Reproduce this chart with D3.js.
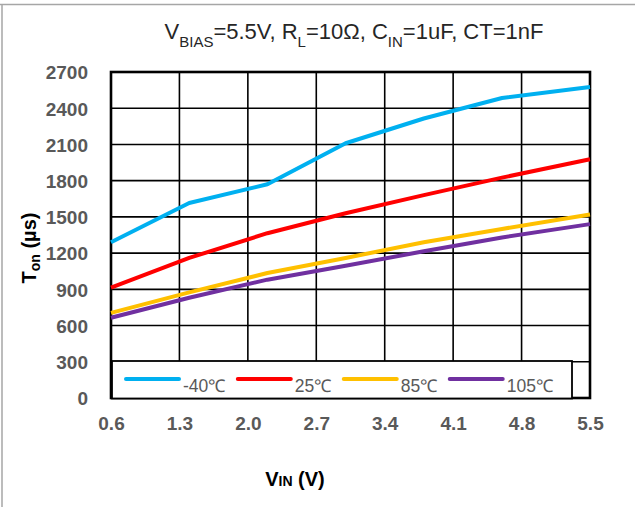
<!DOCTYPE html>
<html lang="en">
<head>
<meta charset="UTF-8">
<title>Ton vs VIN</title>
<script src="https://d3js.org/d3.v7.min.js"></script>
<style>
    body {
        margin: 0;
        background: #fff;
    }

    svg {
        display: block;
        font-family: 'Liberation Sans', Arial, sans-serif;
    }

    .axis path,
    .axis line {
        display: none;
    }

    .axis text {
        font-size: 19px;
        font-weight: bold;
        fill: #595959;
    }

    .grid line {
        stroke: #000;
        stroke-width: 1.6;
    }

    .legend text {
        font-size: 17.5px;
        fill: #595959;
    }
</style>
</head>
<body>
<script>
    // data
    var vin = [0.6, 1.4, 2.2, 3.0, 3.8, 4.6, 5.5];
    var tonM40 = [1290, 1615, 1770, 2110, 2315, 2485, 2575];
    var ton25 = [915, 1160, 1365, 1530, 1680, 1825, 1977];
    var ton85 = [705, 875, 1035, 1160, 1290, 1400, 1520];
    var ton105 = [665, 830, 980, 1095, 1215, 1330, 1440];
    var seriesNames = ["-40℃", "25℃", "85℃", "105℃"];
    var xTicks = [0.6, 1.3, 2.0, 2.7, 3.4, 4.1, 4.8, 5.5];
    var yTicks = [0, 300, 600, 900, 1200, 1500, 1800, 2100, 2400, 2700];

    var colors = ["#00b0f0", "#ff0000", "#ffc000", "#7030a0"];
    var series = [tonM40, ton25, ton85, ton105];

    var W = 635, H = 507;
    var margin = {top: 72, left: 111, right: 45, bottom: 109},
        width = W - margin.left - margin.right,
        height = H - margin.top - margin.bottom;

    var svg = d3.select("body").append("svg")
        .attr("width", W)
        .attr("height", H);

    // outer frame (top and left edge only are visible)
    svg.append("line").attr("x1", 0).attr("x2", W).attr("y1", 4.5).attr("y2", 4.5)
        .attr("stroke", "#a6a6a6").attr("stroke-width", 1.5);
    svg.append("line").attr("x1", 2).attr("x2", 2).attr("y1", 4).attr("y2", H)
        .attr("stroke", "#a6a6a6").attr("stroke-width", 1.5);

    var g = svg.append("g")
        .attr("transform", "translate(" + margin.left + "," + margin.top + ")");

    var x = d3.scaleLinear().domain([0.6, 5.5]).range([0, width]);
    var y = d3.scaleLinear().domain([0, 2700]).range([height, 0]);

    // grid
    var grid = g.append("g").attr("class", "grid");
    grid.selectAll("line.v").data(xTicks).enter().append("line")
        .attr("class", "v")
        .attr("x1", function(d) { return x(d); })
        .attr("x2", function(d) { return x(d); })
        .attr("y1", 0).attr("y2", height);
    grid.selectAll("line.h").data(yTicks).enter().append("line")
        .attr("class", "h")
        .attr("x1", 0).attr("x2", width)
        .attr("y1", function(d) { return y(d); })
        .attr("y2", function(d) { return y(d); });

    g.append("rect")
        .attr("width", width).attr("height", height)
        .attr("fill", "none").attr("stroke", "#000").attr("stroke-width", 2.6);

    // axes (labels only)
    g.append("g").attr("class", "axis")
        .call(d3.axisLeft(y).tickValues(yTicks).tickSize(0).tickPadding(23).tickFormat(d3.format("d")))
        .selectAll("text").attr("dy", "0.36em");

    g.append("g").attr("class", "axis")
        .attr("transform", "translate(0," + height + ")")
        .call(d3.axisBottom(x).tickValues(xTicks).tickSize(0).tickPadding(19).tickFormat(d3.format(".1f")));

    // lines
    var line = d3.line()
        .x(function(d, i) { return x(vin[i]); })
        .y(function(d) { return y(d); });

    g.selectAll("path.series").data(series).enter().append("path")
        .attr("class", "series")
        .attr("d", line)
        .attr("fill", "none")
        .attr("stroke", function(d, i) { return colors[i]; })
        .attr("stroke-width", 4)
        .attr("stroke-linejoin", "round");

    // legend
    var legend = svg.append("g").attr("class", "legend");
    legend.append("rect")
        .attr("x", 112).attr("y", 361).attr("width", 460).attr("height", 37.5)
        .attr("fill", "#fff").attr("stroke", "#000").attr("stroke-width", 1.8);

    var lx = 126;
    seriesNames.forEach(function(name, i) {
        legend.append("line")
            .attr("x1", lx).attr("x2", lx + 53)
            .attr("y1", 379).attr("y2", 379)
            .attr("stroke", colors[i]).attr("stroke-width", 4)
            .attr("stroke-linecap", "round");
        var t = legend.append("text")
            .attr("x", lx + 57).attr("y", 392)
            .text(name);
        lx += 57 + t.node().getComputedTextLength() + 12.5;
    });

    // title
    var title = svg.append("text")
        .attr("x", 354).attr("y", 39)
        .attr("text-anchor", "middle")
        .attr("fill", "#262626")
        .style("font-size", "22px");
    title.append("tspan").text("V");
    title.append("tspan").attr("dy", 8).style("font-size", "15px").text("BIAS");
    title.append("tspan").attr("dy", -8).text("=5.5V, R");
    title.append("tspan").attr("dy", 8).style("font-size", "15px").text("L");
    title.append("tspan").attr("dy", -8).text("=10Ω, C");
    title.append("tspan").attr("dy", 8).style("font-size", "15px").text("IN");
    title.append("tspan").attr("dy", -8).text("=1uF, CT=1nF");

    // axis titles
    var xt = svg.append("text")
        .attr("x", 295).attr("y", 486)
        .attr("text-anchor", "middle")
        .style("font-size", "20px").style("font-weight", "bold");
    xt.append("tspan").text("V");
    xt.append("tspan").style("font-size", "14px").text("IN");
    xt.append("tspan").text(" (V)");

    var yt = svg.append("text")
        .attr("transform", "translate(36,248) rotate(-90)")
        .attr("text-anchor", "middle")
        .style("font-size", "20px").style("font-weight", "bold");
    yt.append("tspan").text("T");
    yt.append("tspan").attr("dy", 4).style("font-size", "14px").text("on");
    yt.append("tspan").attr("dy", -4).text(" (µs)");
</script>
</body>
</html>
